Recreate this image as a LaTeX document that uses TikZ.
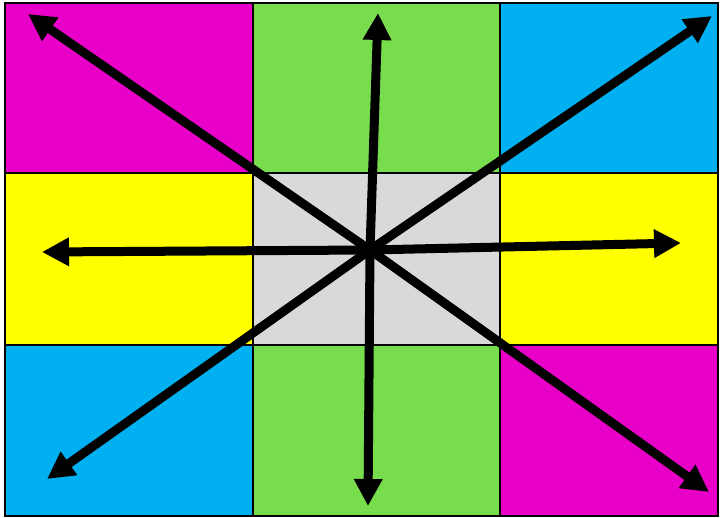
\documentclass[tikz,border=0pt]{standalone}
\usepackage{tikz}
\usetikzlibrary{arrows.meta}
\definecolor{mymagenta}{RGB}{232,0,200}
\definecolor{mygreen}{RGB}{119,221,77}
\definecolor{mycyan}{RGB}{0,176,240}
\definecolor{myyellow}{RGB}{255,255,0}
\definecolor{mygray}{RGB}{217,217,217}
\tikzset{
  cell/.style={draw=black, line width=1.3pt},
  arrow/.style={-{Triangle[length=27pt, width=27pt]}, line width=9pt, color=black}
}

\begin{document}
\begin{tikzpicture}[x=1pt, y=-1pt]
  \useasboundingbox (0,0) rectangle (720,518);

  % Top row
  \draw[cell, fill=mymagenta] (5,3) rectangle (253,173);
  \draw[cell, fill=mygreen] (253,3) rectangle (500,173);
  \draw[cell, fill=mycyan] (500,3) rectangle (718,173);

  % Middle row
  \draw[cell, fill=myyellow] (5,173) rectangle (253,345);
  \draw[cell, fill=mygray] (253,173) rectangle (500,345);
  \draw[cell, fill=myyellow] (500,173) rectangle (718,345);

  % Bottom row
  \draw[cell, fill=mycyan] (5,345) rectangle (253,516);
  \draw[cell, fill=mygreen] (253,345) rectangle (500,516);
  \draw[cell, fill=mymagenta] (500,345) rectangle (718,516);

  % Centre and arrow ends
  \coordinate (centre) at (370,250);
  \coordinate (nw) at (28,14);
  \coordinate (n) at (378,13);
  \coordinate (ne) at (712,16);
  \coordinate (w) at (42,252);
  \coordinate (e) at (681,243);
  \coordinate (sw) at (47,479);
  \coordinate (s) at (368,506);
  \coordinate (se) at (709,492);

  % Arrows out of the centre
  \foreach \tip in {nw, n, ne, w, e, sw, s, se}
    \draw[arrow] (centre) -- (\tip);
\end{tikzpicture}
\end{document}
